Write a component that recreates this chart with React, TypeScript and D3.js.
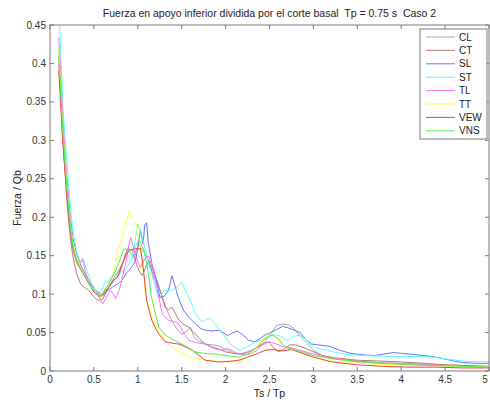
import React from "react";
import * as d3 from "d3";

const TITLE = "Fuerza en apoyo inferior dividida por el corte basal  Tp = 0.75 s  Caso 2";
const X_LABEL = "Ts / Tp";
const Y_LABEL = "Fuerza / Qb";
const xTicks = [0, 0.5, 1, 1.5, 2, 2.5, 3, 3.5, 4, 4.5, 5];
const yTicks = [0, 0.05, 0.1, 0.15, 0.2, 0.25, 0.3, 0.35, 0.4, 0.45];
const seriesNames = ["CL", "CT", "SL", "ST", "TL", "TT", "VEW", "VNS"];
const seriesColors = ["#a8a8a8", "#b87878", "#6f6fff", "#55ffff", "#ff70ff", "#ffff30", "#f04040", "#50f050"];

const CL: [number, number][] = [[0.1,0.41],[0.12,0.37],[0.14,0.32],[0.17,0.27],[0.2,0.23],[0.23,0.19],[0.27,0.16],[0.31,0.143],[0.36,0.133],[0.41,0.122],[0.46,0.112],[0.52,0.102],[0.58,0.096],[0.62,0.1],[0.67,0.11],[0.71,0.118],[0.76,0.126],[0.82,0.139],[0.9,0.157],[0.95,0.148],[1.01,0.165],[1.05,0.158],[1.09,0.15],[1.16,0.135],[1.22,0.118],[1.28,0.096],[1.35,0.074],[1.43,0.057],[1.5,0.048],[1.56,0.052],[1.6,0.057],[1.64,0.044],[1.7,0.038],[1.77,0.035],[1.85,0.034],[1.92,0.033],[2.0,0.028],[2.08,0.024],[2.15,0.022],[2.25,0.021],[2.35,0.026],[2.45,0.038],[2.52,0.05],[2.58,0.059],[2.65,0.061],[2.72,0.06],[2.78,0.055],[2.85,0.045],[2.92,0.037],[3.0,0.027],[3.1,0.02],[3.25,0.016],[3.5,0.013],[3.75,0.011],[4.0,0.01],[4.25,0.009],[4.5,0.008],[4.75,0.007],[5.0,0.006]];
const CT: [number, number][] = [[0.1,0.4],[0.12,0.36],[0.14,0.31],[0.17,0.26],[0.2,0.21],[0.23,0.175],[0.26,0.15],[0.3,0.128],[0.35,0.113],[0.4,0.108],[0.44,0.105],[0.49,0.098],[0.54,0.092],[0.6,0.093],[0.67,0.109],[0.73,0.118],[0.79,0.126],[0.84,0.145],[0.88,0.159],[0.94,0.157],[0.97,0.144],[1.01,0.131],[1.05,0.124],[1.09,0.135],[1.125,0.144],[1.18,0.122],[1.24,0.109],[1.31,0.083],[1.35,0.08],[1.39,0.083],[1.43,0.074],[1.47,0.066],[1.53,0.06],[1.58,0.057],[1.62,0.052],[1.66,0.048],[1.7,0.042],[1.77,0.035],[1.85,0.031],[1.92,0.029],[2.0,0.025],[2.08,0.023],[2.15,0.022],[2.25,0.024],[2.35,0.03],[2.43,0.036],[2.49,0.038],[2.55,0.03],[2.6,0.025],[2.66,0.028],[2.73,0.034],[2.8,0.034],[2.9,0.03],[3.0,0.025],[3.1,0.02],[3.25,0.017],[3.5,0.014],[3.75,0.013],[3.96,0.012],[4.25,0.01],[4.5,0.008],[4.75,0.007],[5.0,0.006]];
const SL: [number, number][] = [[0.1,0.42],[0.12,0.38],[0.14,0.33],[0.17,0.28],[0.2,0.24],[0.23,0.2],[0.27,0.168],[0.31,0.15],[0.36,0.135],[0.41,0.124],[0.46,0.114],[0.52,0.105],[0.6,0.098],[0.65,0.104],[0.71,0.109],[0.77,0.113],[0.82,0.118],[0.87,0.127],[0.93,0.135],[0.97,0.142],[1.0,0.16],[1.03,0.183],[1.06,0.165],[1.08,0.19],[1.1,0.193],[1.12,0.166],[1.16,0.14],[1.22,0.114],[1.25,0.096],[1.3,0.097],[1.35,0.105],[1.39,0.124],[1.42,0.112],[1.46,0.096],[1.52,0.079],[1.58,0.07],[1.65,0.062],[1.72,0.055],[1.77,0.053],[1.85,0.052],[1.92,0.053],[1.97,0.05],[2.02,0.046],[2.07,0.049],[2.13,0.052],[2.2,0.047],[2.26,0.04],[2.33,0.038],[2.39,0.042],[2.45,0.047],[2.52,0.05],[2.58,0.054],[2.65,0.058],[2.72,0.056],[2.8,0.052],[2.85,0.05],[2.92,0.04],[2.98,0.035],[3.05,0.034],[3.19,0.032],[3.3,0.027],[3.42,0.023],[3.57,0.021],[3.7,0.02],[3.8,0.022],[3.91,0.024],[4.0,0.023],[4.18,0.021],[4.35,0.019],[4.48,0.016],[4.6,0.013],[4.7,0.011],[4.85,0.01],[5.0,0.01]];
const ST: [number, number][] = [[0.09,0.47],[0.11,0.45],[0.13,0.39],[0.15,0.34],[0.18,0.29],[0.21,0.245],[0.24,0.205],[0.27,0.175],[0.31,0.152],[0.35,0.14],[0.38,0.145],[0.42,0.13],[0.47,0.115],[0.52,0.105],[0.56,0.1],[0.6,0.108],[0.63,0.118],[0.66,0.115],[0.69,0.122],[0.74,0.125],[0.8,0.128],[0.86,0.131],[0.9,0.14],[0.94,0.148],[0.97,0.17],[1.0,0.191],[1.05,0.174],[1.08,0.16],[1.125,0.139],[1.18,0.118],[1.24,0.094],[1.3,0.105],[1.35,0.104],[1.39,0.105],[1.45,0.109],[1.5,0.116],[1.56,0.1],[1.61,0.088],[1.66,0.074],[1.73,0.064],[1.81,0.069],[1.87,0.063],[1.94,0.052],[2.0,0.044],[2.05,0.036],[2.1,0.031],[2.16,0.027],[2.25,0.032],[2.33,0.037],[2.42,0.041],[2.5,0.045],[2.56,0.047],[2.62,0.046],[2.7,0.04],[2.78,0.045],[2.85,0.047],[2.92,0.04],[3.0,0.031],[3.15,0.027],[3.3,0.023],[3.42,0.021],[3.6,0.02],[3.84,0.019],[4.1,0.019],[4.36,0.018],[4.55,0.015],[4.7,0.013],[4.85,0.012],[5.0,0.012]];
const TL: [number, number][] = [[0.1,0.434],[0.12,0.39],[0.14,0.34],[0.17,0.285],[0.2,0.235],[0.23,0.195],[0.26,0.165],[0.3,0.145],[0.34,0.14],[0.37,0.146],[0.4,0.13],[0.45,0.115],[0.5,0.104],[0.55,0.098],[0.6,0.087],[0.65,0.098],[0.69,0.105],[0.72,0.1],[0.75,0.094],[0.8,0.11],[0.86,0.139],[0.9,0.165],[0.92,0.174],[0.95,0.161],[0.99,0.145],[1.03,0.135],[1.08,0.146],[1.12,0.15],[1.16,0.138],[1.2,0.118],[1.24,0.095],[1.28,0.074],[1.35,0.066],[1.42,0.064],[1.47,0.061],[1.52,0.05],[1.58,0.04],[1.66,0.037],[1.77,0.035],[1.85,0.03],[1.92,0.027],[2.03,0.029],[2.1,0.025],[2.15,0.022],[2.22,0.024],[2.3,0.027],[2.4,0.033],[2.5,0.038],[2.58,0.035],[2.65,0.032],[2.75,0.03],[2.85,0.027],[3.0,0.022],[3.15,0.018],[3.3,0.015],[3.5,0.012],[3.75,0.01],[4.0,0.009],[4.25,0.008],[4.5,0.007],[4.75,0.006],[5.0,0.005]];
const TT: [number, number][] = [[0.1,0.42],[0.12,0.375],[0.14,0.325],[0.17,0.275],[0.2,0.23],[0.23,0.193],[0.26,0.168],[0.3,0.148],[0.35,0.135],[0.4,0.124],[0.45,0.113],[0.5,0.104],[0.58,0.097],[0.63,0.105],[0.68,0.115],[0.73,0.13],[0.78,0.16],[0.82,0.172],[0.86,0.19],[0.9,0.208],[0.93,0.2],[0.97,0.196],[1.0,0.175],[1.03,0.161],[1.06,0.13],[1.08,0.105],[1.11,0.09],[1.14,0.079],[1.2,0.06],[1.25,0.05],[1.31,0.04],[1.4,0.03],[1.5,0.0225],[1.6,0.018],[1.77,0.014],[1.95,0.012],[2.15,0.012],[2.25,0.018],[2.33,0.028],[2.42,0.04],[2.5,0.049],[2.56,0.046],[2.62,0.037],[2.7,0.03],[2.8,0.026],[2.9,0.022],[3.0,0.018],[3.2,0.013],[3.4,0.011],[3.7,0.009],[4.0,0.008],[4.3,0.007],[4.6,0.006],[5.0,0.005]];
const VEW: [number, number][] = [[0.1,0.39],[0.12,0.35],[0.14,0.31],[0.17,0.26],[0.2,0.22],[0.23,0.185],[0.26,0.16],[0.3,0.142],[0.35,0.132],[0.4,0.122],[0.45,0.112],[0.5,0.103],[0.56,0.097],[0.6,0.1],[0.67,0.109],[0.72,0.118],[0.77,0.122],[0.82,0.139],[0.86,0.15],[0.9,0.157],[0.97,0.159],[1.03,0.159],[1.05,0.145],[1.07,0.126],[1.1,0.092],[1.13,0.078],[1.16,0.066],[1.2,0.056],[1.24,0.048],[1.31,0.038],[1.4,0.036],[1.47,0.035],[1.55,0.031],[1.62,0.027],[1.7,0.02],[1.77,0.014],[1.9,0.012],[2.0,0.012],[2.15,0.014],[2.25,0.018],[2.35,0.022],[2.45,0.027],[2.54,0.028],[2.65,0.026],[2.75,0.028],[2.85,0.024],[3.0,0.018],[3.2,0.012],[3.5,0.008],[3.8,0.006],[4.1,0.005],[4.4,0.005],[4.7,0.004],[5.0,0.004]];
const VNS: [number, number][] = [[0.1,0.41],[0.12,0.37],[0.14,0.325],[0.17,0.272],[0.2,0.228],[0.23,0.19],[0.26,0.163],[0.3,0.145],[0.35,0.133],[0.4,0.123],[0.45,0.112],[0.5,0.104],[0.58,0.098],[0.64,0.108],[0.7,0.12],[0.75,0.131],[0.8,0.145],[0.84,0.159],[0.88,0.158],[0.92,0.157],[0.96,0.16],[0.99,0.165],[1.01,0.172],[1.04,0.165],[1.07,0.157],[1.1,0.14],[1.125,0.122],[1.15,0.1],[1.18,0.083],[1.24,0.057],[1.3,0.048],[1.35,0.044],[1.45,0.038],[1.5,0.035],[1.58,0.03],[1.65,0.025],[1.75,0.023],[1.88,0.022],[2.0,0.02],[2.15,0.018],[2.25,0.022],[2.35,0.03],[2.45,0.042],[2.53,0.047],[2.6,0.042],[2.66,0.033],[2.7,0.03],[2.8,0.027],[2.9,0.024],[3.0,0.02],[3.2,0.016],[3.5,0.012],[3.8,0.01],[4.1,0.008],[4.4,0.007],[4.7,0.006],[5.0,0.005]];

const seriesData = [CL, CT, SL, ST, TL, TT, VEW, VNS];

const W = 490, H = 402;
const M = { left: 50, right: 489, top: 25, bottom: 371 };
const FONT = "'Liberation Sans', Arial, Helvetica, sans-serif";

export default function App() {
  const x = d3.scaleLinear().domain([0, 5]).range([M.left, M.right]);
  const y = d3.scaleLinear().domain([0, 0.45]).range([M.bottom, M.top]);
  const line = d3.line<[number, number]>().x(d => x(d[0])).y(d => y(d[1]));
  const axisColor = "#7a7a7a";
  const tl = 4;
  const legX = 420, legY = 29, legW = 67, legH = 110;
  return (
    <svg width={W} height={H} style={{ position: "absolute", left: 0, top: 0, background: "#fff" }} fontFamily={FONT}>
      <defs>
        <clipPath id="plot">
          <rect x={M.left} y={M.top} width={M.right - M.left} height={M.bottom - M.top} />
        </clipPath>
      </defs>
      <rect x={0} y={0} width={W} height={H} fill="#fff" />
      <g clipPath="url(#plot)">
        {seriesData.map((s, i) => (
          <path key={i} d={line(s) || ""} fill="none" stroke={seriesColors[i]} strokeWidth={1} />
        ))}
      </g>
      <rect x={M.left} y={M.top} width={M.right - M.left} height={M.bottom - M.top} fill="none" stroke={axisColor} strokeWidth={1} />
      {xTicks.map((t, i) => (
        <g key={"x" + i}>
          <line x1={x(t)} x2={x(t)} y1={M.bottom} y2={M.bottom - tl} stroke={axisColor} />
          <line x1={x(t)} x2={x(t)} y1={M.top} y2={M.top + tl} stroke={axisColor} />
          <text x={Math.min(x(t), W - 5)} y={383} fontSize={10} textAnchor="middle" fill="#333">{String(t)}</text>
        </g>
      ))}
      {yTicks.map((t, i) => (
        <g key={"y" + i}>
          <line x1={M.left} x2={M.left + tl} y1={y(t)} y2={y(t)} stroke={axisColor} />
          <line x1={M.right} x2={M.right - tl} y1={y(t)} y2={y(t)} stroke={axisColor} />
          <text x={46} y={y(t) + 3.5} fontSize={10} textAnchor="end" fill="#333">{String(t)}</text>
        </g>
      ))}
      <text x={(M.left + M.right) / 2} y={17} fontSize={10.5} textAnchor="middle" fill="#222" style={{ whiteSpace: "pre" }}>{TITLE}</text>
      <text x={(M.left + M.right) / 2} y={397} fontSize={10.5} textAnchor="middle" fill="#222">{X_LABEL}</text>
      <text transform={`translate(21,${(M.top + M.bottom) / 2}) rotate(-90)`} fontSize={10.5} textAnchor="middle" fill="#222">{Y_LABEL}</text>
      <rect x={legX} y={legY} width={legW} height={legH} fill="#fff" stroke={axisColor} />
      {seriesNames.map((n, i) => {
        const ly = 37 + i * 13.4;
        return (
          <g key={n}>
            <line x1={426} x2={455} y1={ly} y2={ly} stroke={seriesColors[i]} strokeWidth={1} />
            <text x={459} y={ly + 3.5} fontSize={10} fill="#222">{n}</text>
          </g>
        );
      })}
    </svg>
  );
}
